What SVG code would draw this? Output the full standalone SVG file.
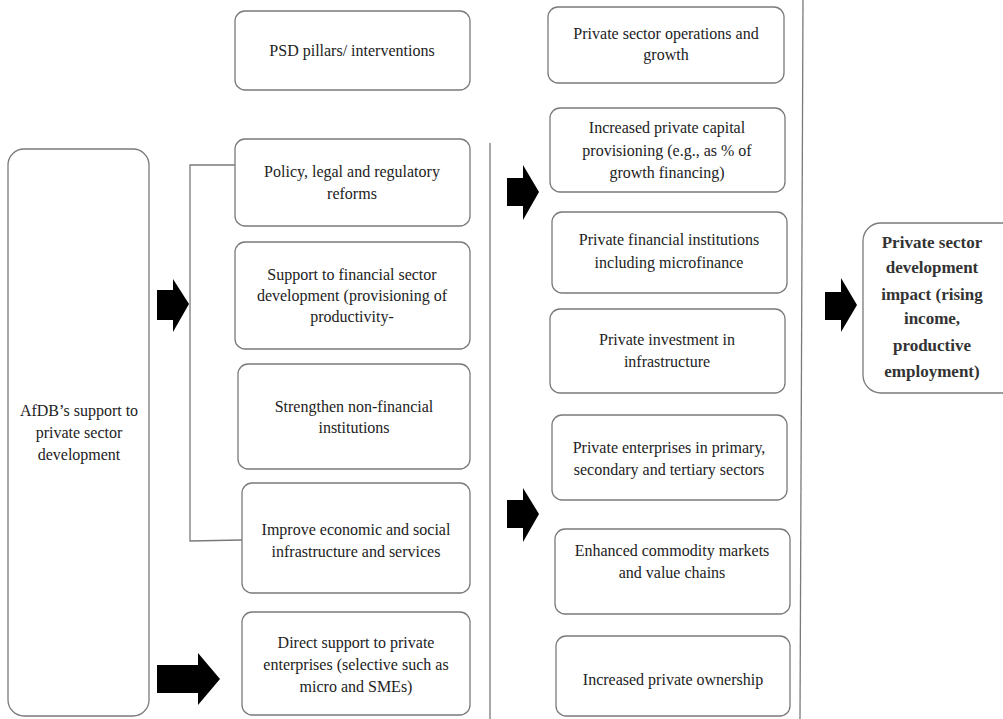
<svg xmlns="http://www.w3.org/2000/svg" width="1003" height="719" viewBox="0 0 1003 719">
<style>
.box{fill:#fff;stroke:#7a7a7a;stroke-width:1.3}
.t{font-family:"Liberation Serif","Times New Roman",serif;font-size:16px;fill:#222;text-anchor:middle}
.tb{font-family:"Liberation Serif","Times New Roman",serif;font-size:17px;font-weight:bold;fill:#333;text-anchor:middle}
.ln{fill:none;stroke:#7a7a7a;stroke-width:1.3}
.ar{fill:#000}
</style>
<rect width="1003" height="719" fill="#fff"/>
<g id="connectors">
<line class="ln" x1="490" y1="143" x2="490" y2="719"/>
<line class="ln" x1="803" y1="0" x2="800" y2="719"/>
<polyline class="ln" points="235,165 190,165 190,541 242,540"/>
<path class="ar" d="M157,290 H173 V279 L189,304 L173,332 V320 H157 Z"/>
<path class="ar" d="M157,665 H198 V653 L220,679 L198,705 V693 H157 Z"/>
<path class="ar" d="M507,178 H523 V165 L539,192 L523,220 V206 H507 Z"/>
<path class="ar" d="M507,500 H523 V488 L539,514 L523,542 V528 H507 Z"/>
<path class="ar" d="M825,292 H841 V278 L857,305 L841,332 V320 H825 Z"/>
</g>
<g id="afdb">
<rect class="box" x="8" y="149" width="141" height="567" rx="16"/>
<text class="t" x="79" y="416">AfDB’s support to</text>
<text class="t" x="79" y="438">private sector</text>
<text class="t" x="79" y="460">development</text>
</g>
<g id="psd">
<rect class="box" x="235" y="11" width="235" height="79" rx="10"/>
<text class="t" x="352" y="56">PSD pillars/ interventions</text>
</g>
<g id="policy">
<rect class="box" x="235" y="139" width="235" height="87" rx="10"/>
<text class="t" x="352" y="177">Policy, legal and regulatory</text>
<text class="t" x="352" y="199">reforms</text>
</g>
<g id="financial">
<rect class="box" x="235" y="242" width="235" height="107" rx="10"/>
<text class="t" x="352" y="280">Support to financial sector</text>
<text class="t" x="352" y="301">development (provisioning of</text>
<text class="t" x="352" y="322">productivity-</text>
</g>
<g id="nonfinancial">
<rect class="box" x="238" y="364" width="232" height="105" rx="10"/>
<text class="t" x="354" y="412">Strengthen non-financial</text>
<text class="t" x="354" y="433">institutions</text>
</g>
<g id="infrastructure">
<rect class="box" x="242" y="483" width="228" height="110" rx="10"/>
<text class="t" x="356" y="535">Improve economic and social</text>
<text class="t" x="356" y="557">infrastructure and services</text>
</g>
<g id="direct">
<rect class="box" x="242" y="612" width="228" height="103" rx="10"/>
<text class="t" x="356" y="648">Direct support to private</text>
<text class="t" x="356" y="670">enterprises (selective such as</text>
<text class="t" x="356" y="692">micro and SMEs)</text>
</g>
<g id="operations">
<rect class="box" x="548" y="7" width="236" height="76" rx="10"/>
<text class="t" x="666" y="39">Private sector operations and</text>
<text class="t" x="666" y="60">growth</text>
</g>
<g id="capital">
<rect class="box" x="550" y="108" width="235" height="84" rx="10"/>
<text class="t" x="667" y="133">Increased private capital</text>
<text class="t" x="667" y="156">provisioning (e.g., as % of</text>
<text class="t" x="667" y="178">growth financing)</text>
</g>
<g id="microfinance">
<rect class="box" x="552" y="212" width="235" height="81" rx="10"/>
<text class="t" x="669" y="245">Private financial institutions</text>
<text class="t" x="669" y="268">including microfinance</text>
</g>
<g id="investment">
<rect class="box" x="550" y="309" width="235" height="84" rx="10"/>
<text class="t" x="667" y="345">Private investment in</text>
<text class="t" x="667" y="367">infrastructure</text>
</g>
<g id="enterprises">
<rect class="box" x="552" y="415" width="235" height="85" rx="10"/>
<text class="t" x="669" y="453">Private enterprises in primary,</text>
<text class="t" x="669" y="475">secondary and tertiary sectors</text>
</g>
<g id="commodity">
<rect class="box" x="555" y="529" width="235" height="85" rx="10"/>
<text class="t" x="672" y="556">Enhanced commodity markets</text>
<text class="t" x="672" y="578">and value chains</text>
</g>
<g id="ownership">
<rect class="box" x="556" y="636" width="234" height="80" rx="10"/>
<text class="t" x="673" y="685">Increased private ownership</text>
</g>
<g id="impact">
<rect class="box" x="863" y="223" width="160" height="170" rx="18"/>
<text class="tb" x="932" y="248">Private sector</text>
<text class="tb" x="932" y="273">development</text>
<text class="tb" x="932" y="300">impact (rising</text>
<text class="tb" x="932" y="324">income,</text>
<text class="tb" x="932" y="351">productive</text>
<text class="tb" x="932" y="377">employment)</text>
</g>
</svg>
